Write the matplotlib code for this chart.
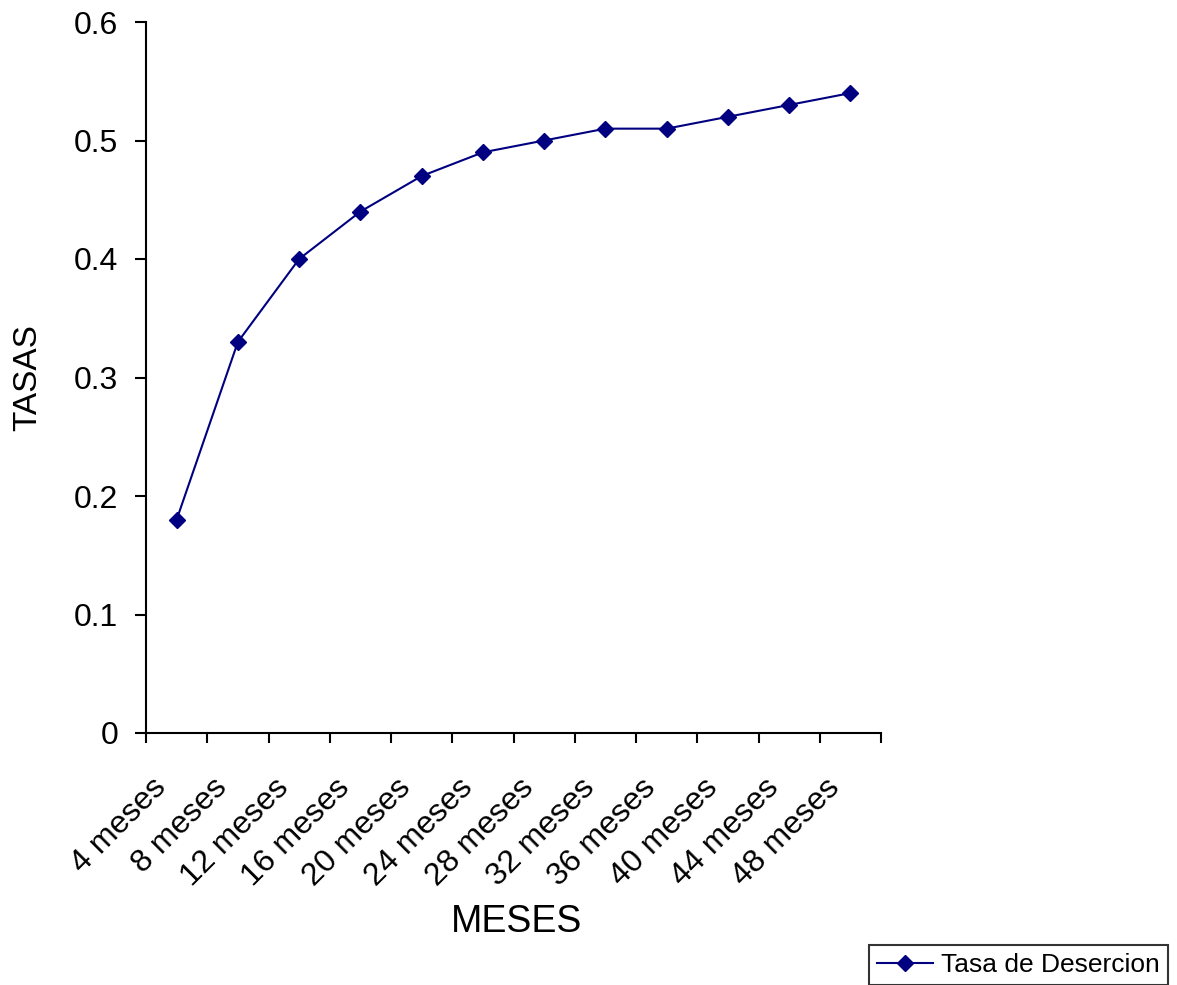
import matplotlib
matplotlib.use("Agg")
import matplotlib.pyplot as plt
import matplotlib.transforms as mtransforms
import numpy as np

categories = ["4 meses", "8 meses", "12 meses", "16 meses", "20 meses", "24 meses",
              "28 meses", "32 meses", "36 meses", "40 meses", "44 meses", "48 meses"]
tasa = [0.18, 0.33, 0.40, 0.44, 0.47, 0.49, 0.50, 0.51, 0.51, 0.52, 0.53, 0.54]
yticks = [0, 0.1, 0.2, 0.3, 0.4, 0.5, 0.6]
ytick_labels = ["0", "0.1", "0.2", "0.3", "0.4", "0.5", "0.6"]

plt.rcParams['font.family'] = ['Liberation Sans', 'DejaVu Sans']

W, H = 1177, 985
fig = plt.figure(figsize=(W / 100, H / 100), dpi=100)
ax = fig.add_axes([146 / W, (H - 733) / H, (881 - 146) / W, (733 - 22) / H])

x = np.arange(len(categories))
line, = ax.plot(x, tasa, color='#000080', marker='D', markersize=8, linewidth=1.5,
                label='Tasa de Desercion')

ax.set_xlim(-0.5, len(categories) - 0.5)
ax.set_ylim(0, 0.6)
ax.set_yticks(yticks)
ax.set_yticklabels(ytick_labels, fontsize=23)
ax.tick_params(axis='y', direction='out', length=8, width=1.5, pad=12)

# major ticks at category boundaries, labels at centers via minor ticks
ax.set_xticks(np.arange(-0.5, len(categories), 1.0))
ax.set_xticklabels([])
ax.tick_params(axis='x', which='major', direction='out', length=7, width=1.5)
ax.set_xticks(x, minor=True)
ax.set_xticklabels(categories, minor=True, rotation=45, ha='right', va='center',
                   rotation_mode='anchor', fontsize=23)
ax.tick_params(axis='x', which='minor', length=0, pad=36)
shift = mtransforms.ScaledTranslation(-15 / 100, 0, fig.dpi_scale_trans)
for lbl in ax.get_xticklabels(minor=True):
    lbl.set_transform(lbl.get_transform() + shift)

for s in ['top', 'right']:
    ax.spines[s].set_visible(False)
for s in ['left', 'bottom']:
    ax.spines[s].set_linewidth(1.5)

ax.set_xlabel('MESES', fontsize=27)
ax.xaxis.set_label_coords((517 - 146) / 735, (733 - 904) / 711)
ax.set_ylabel('TASAS', fontsize=24)
ax.yaxis.set_label_coords((43 - 146) / 735, 0.5)

leg = fig.legend(handles=[line], loc='lower right', bbox_to_anchor=(1168 / W, 0.0),
                 fontsize=19, frameon=True, fancybox=False, edgecolor='black',
                 handlelength=2.15, borderpad=0.3, handletextpad=0.3, borderaxespad=0)
leg.get_frame().set_linewidth(1.5)

fig.savefig('out.png', dpi=100)
